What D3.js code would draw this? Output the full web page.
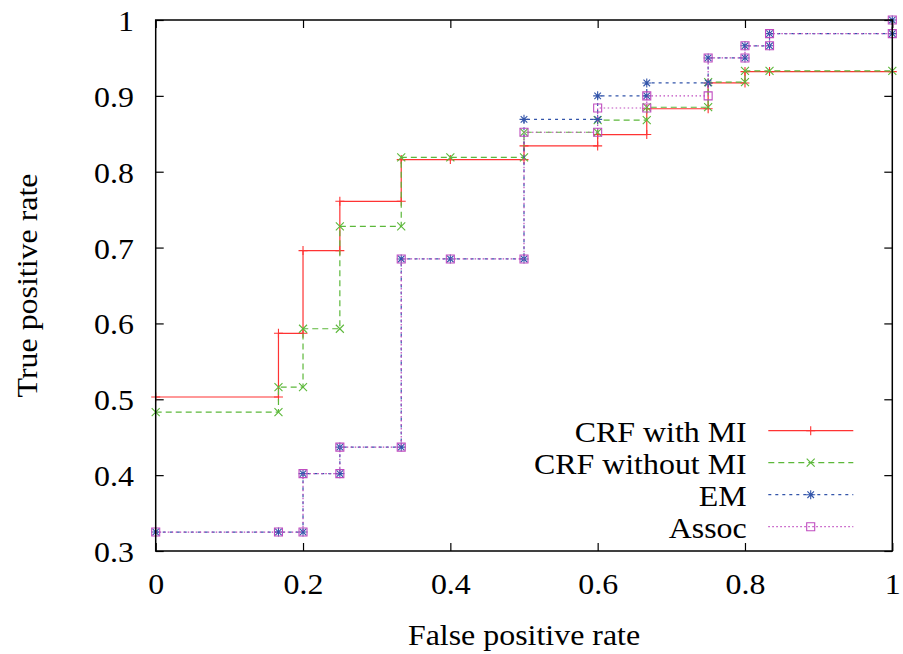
<!DOCTYPE html>
<html>
<head>
<meta charset="utf-8">
<script src="https://cdn.jsdelivr.net/npm/d3@7"></script>
<style>
  body { margin: 0; background: #fff; }
  svg text { font-family: "Liberation Serif", "Times New Roman", Times, serif; font-size: 28.5px; fill: #000; }
</style>
</head>
<body>
<script>
// ROC points, corners of the steps included
const crfMiFpr = [0, 1/6, 1/6, 0.2, 0.2, 0.25, 0.25, 1/3, 1/3, 0.4, 0.5, 0.5, 0.6, 0.6, 2/3, 2/3, 0.75, 0.75, 0.8, 0.8, 5/6, 1]
const crfMiTpr = [0.503, 0.503, 0.587, 0.587, 0.696, 0.696, 0.761, 0.761, 0.816, 0.816, 0.816, 0.834, 0.834, 0.849, 0.849, 0.883, 0.883, 0.917, 0.917, 0.932, 0.932, 0.932]

const crfNoMiFpr = [0, 1/6, 1/6, 0.2, 0.2, 0.25, 0.25, 1/3, 1/3, 0.4, 0.5, 0.5, 0.6, 0.6, 2/3, 2/3, 0.75, 0.75, 0.8, 0.8, 5/6, 1]
const crfNoMiTpr = [0.483, 0.483, 0.516, 0.516, 0.593, 0.593, 0.728, 0.728, 0.819, 0.819, 0.819, 0.852, 0.852, 0.868, 0.868, 0.885, 0.885, 0.918, 0.918, 0.933, 0.933, 0.933]

const emFpr = [0, 1/6, 0.2, 0.2, 0.25, 0.25, 1/3, 1/3, 0.4, 0.5, 0.5, 0.6, 0.6, 2/3, 2/3, 0.75, 0.75, 0.8, 0.8, 5/6, 5/6, 1, 1]
const emTpr = [0.325, 0.325, 0.325, 0.402, 0.402, 0.437, 0.437, 0.685, 0.685, 0.685, 0.869, 0.869, 0.900, 0.900, 0.917, 0.917, 0.950, 0.950, 0.966, 0.966, 0.982, 0.982, 1.0]

const assocFpr = [0, 1/6, 0.2, 0.2, 0.25, 0.25, 1/3, 1/3, 0.4, 0.5, 0.5, 0.6, 0.6, 2/3, 2/3, 0.75, 0.75, 0.8, 0.8, 5/6, 5/6, 1, 1]
const assocTpr = [0.325, 0.325, 0.325, 0.402, 0.402, 0.437, 0.437, 0.685, 0.685, 0.685, 0.852, 0.852, 0.884, 0.884, 0.900, 0.900, 0.950, 0.950, 0.966, 0.966, 0.982, 0.982, 1.0]

const seriesNames = ["CRF with MI", "CRF without MI", "EM", "Assoc"]
const xTicks = [0, 0.2, 0.4, 0.6, 0.8, 1]
const yTicks = [0.3, 0.4, 0.5, 0.6, 0.7, 0.8, 0.9, 1]

let width = 903
let height = 654
let margin = { top: 20, right: 10.7, bottom: 103, left: 155.7 }
let stretch = 1.12   // the fonts in the picture are drawn a bit wide
let serif = '"Liberation Serif", "Times New Roman", Times, serif'

const series = [
  { name: seriesNames[0], fpr: crfMiFpr, tpr: crfMiTpr, color: "#f33", dash: null, mark: "plus" },
  { name: seriesNames[1], fpr: crfNoMiFpr, tpr: crfNoMiTpr, color: "#5cb83a", dash: "6,4", mark: "cross" },
  { name: seriesNames[2], fpr: emFpr, tpr: emTpr, color: "#3355aa", dash: "3,4", mark: "star" },
  { name: seriesNames[3], fpr: assocFpr, tpr: assocTpr, color: "#c04cc0", dash: "1.5,2.5", mark: "box" }
]

const x = d3.scaleLinear().domain([0, 1]).range([margin.left, width - margin.right])
const y = d3.scaleLinear().domain([0.3, 1]).range([height - margin.bottom, margin.top])

const svg = d3.select("body").append("svg")
  .attr("width", width)
  .attr("height", height)
  .attr("font-family", serif)

// marker shapes, all stroked
function markPath(kind) {
  const p = d3.path()
  const a = 4.5, b = 4
  if (kind == "plus" || kind == "star") {
    p.moveTo(-a, 0); p.lineTo(a, 0)
    p.moveTo(0, -a); p.lineTo(0, a)
  }
  if (kind == "cross" || kind == "star") {
    const c = kind == "star" ? 3.3 : b
    p.moveTo(-c, -c); p.lineTo(c, c)
    p.moveTo(-c, c); p.lineTo(c, -c)
  }
  if (kind == "box") p.rect(-b, -b, 2 * b, 2 * b)
  return p.toString()
}

// ticks, mirrored on all four sides
const bottomAxis = svg.append("g").attr("transform", `translate(0,${y(0.3)})`)
  .call(d3.axisBottom(x).tickValues(xTicks).tickSize(-8).tickFormat(d3.format("")))
const topAxis = svg.append("g").attr("transform", `translate(0,${y(1)})`)
  .call(d3.axisTop(x).tickValues(xTicks).tickSize(-8).tickFormat(""))
const leftAxis = svg.append("g").attr("transform", `translate(${x(0)},0)`)
  .call(d3.axisLeft(y).tickValues(yTicks).tickSize(-8).tickFormat(d3.format("")))
const rightAxis = svg.append("g").attr("transform", `translate(${x(1)},0)`)
  .call(d3.axisRight(y).tickValues(yTicks).tickSize(-8).tickFormat(""))

;[bottomAxis, topAxis, leftAxis, rightAxis].forEach(g => {
  g.attr("font-family", serif).attr("font-size", null)
  g.select(".domain").remove()
  g.selectAll("line").attr("stroke", "#000").attr("stroke-width", 1.2)
})

bottomAxis.selectAll("text")
  .attr("y", 43).attr("dy", 0)
  .attr("transform", `scale(${stretch},1)`)
leftAxis.selectAll("text")
  .attr("x", -21.7 / stretch).attr("y", 10.5).attr("dy", 0)
  .attr("text-anchor", "end")
  .attr("transform", `scale(${stretch},1)`)

// curves
const line = d3.line().x(d => x(d[0])).y(d => y(d[1]))

series.forEach(s => {
  const pts = s.fpr.map((f, i) => [f, s.tpr[i]])
  svg.append("path")
    .attr("d", line(pts))
    .attr("fill", "none")
    .attr("stroke", s.color)
    .attr("stroke-width", 1.2)
    .attr("stroke-dasharray", s.dash)
  svg.append("g").selectAll("path")
    .data(pts)
    .enter().append("path")
    .attr("d", markPath(s.mark))
    .attr("transform", d => `translate(${x(d[0])},${y(d[1])})`)
    .attr("fill", "none")
    .attr("stroke", s.color)
    .attr("stroke-width", 1.1)
})

// border
svg.append("rect")
  .attr("x", x(0)).attr("y", y(1))
  .attr("width", x(1) - x(0)).attr("height", y(0.3) - y(1))
  .attr("fill", "none").attr("stroke", "#000").attr("stroke-width", 1.5)

// legend
const legend = svg.append("g")
series.forEach((s, i) => {
  const ly = 430.7 + i * 32
  legend.append("text")
    .attr("text-anchor", "end")
    .attr("transform", `translate(746.7,${ly + 11}) scale(${stretch},1)`)
    .text(s.name)
  legend.append("line")
    .attr("x1", 768.3).attr("x2", 853.3)
    .attr("y1", ly).attr("y2", ly)
    .attr("stroke", s.color).attr("stroke-width", 1.2)
    .attr("stroke-dasharray", s.dash)
  legend.append("path")
    .attr("d", markPath(s.mark))
    .attr("transform", `translate(810.7,${ly})`)
    .attr("fill", "none").attr("stroke", s.color).attr("stroke-width", 1.1)
})

// axis titles
svg.append("text")
  .attr("text-anchor", "middle")
  .attr("transform", `translate(${(x(0) + x(1)) / 2},645) scale(${stretch},1)`)
  .text("False positive rate")

svg.append("text")
  .attr("text-anchor", "middle")
  .attr("transform", `translate(37,${(y(0.3) + y(1)) / 2}) rotate(-90) scale(${stretch},1)`)
  .text("True positive rate")
</script>
</body>
</html>
